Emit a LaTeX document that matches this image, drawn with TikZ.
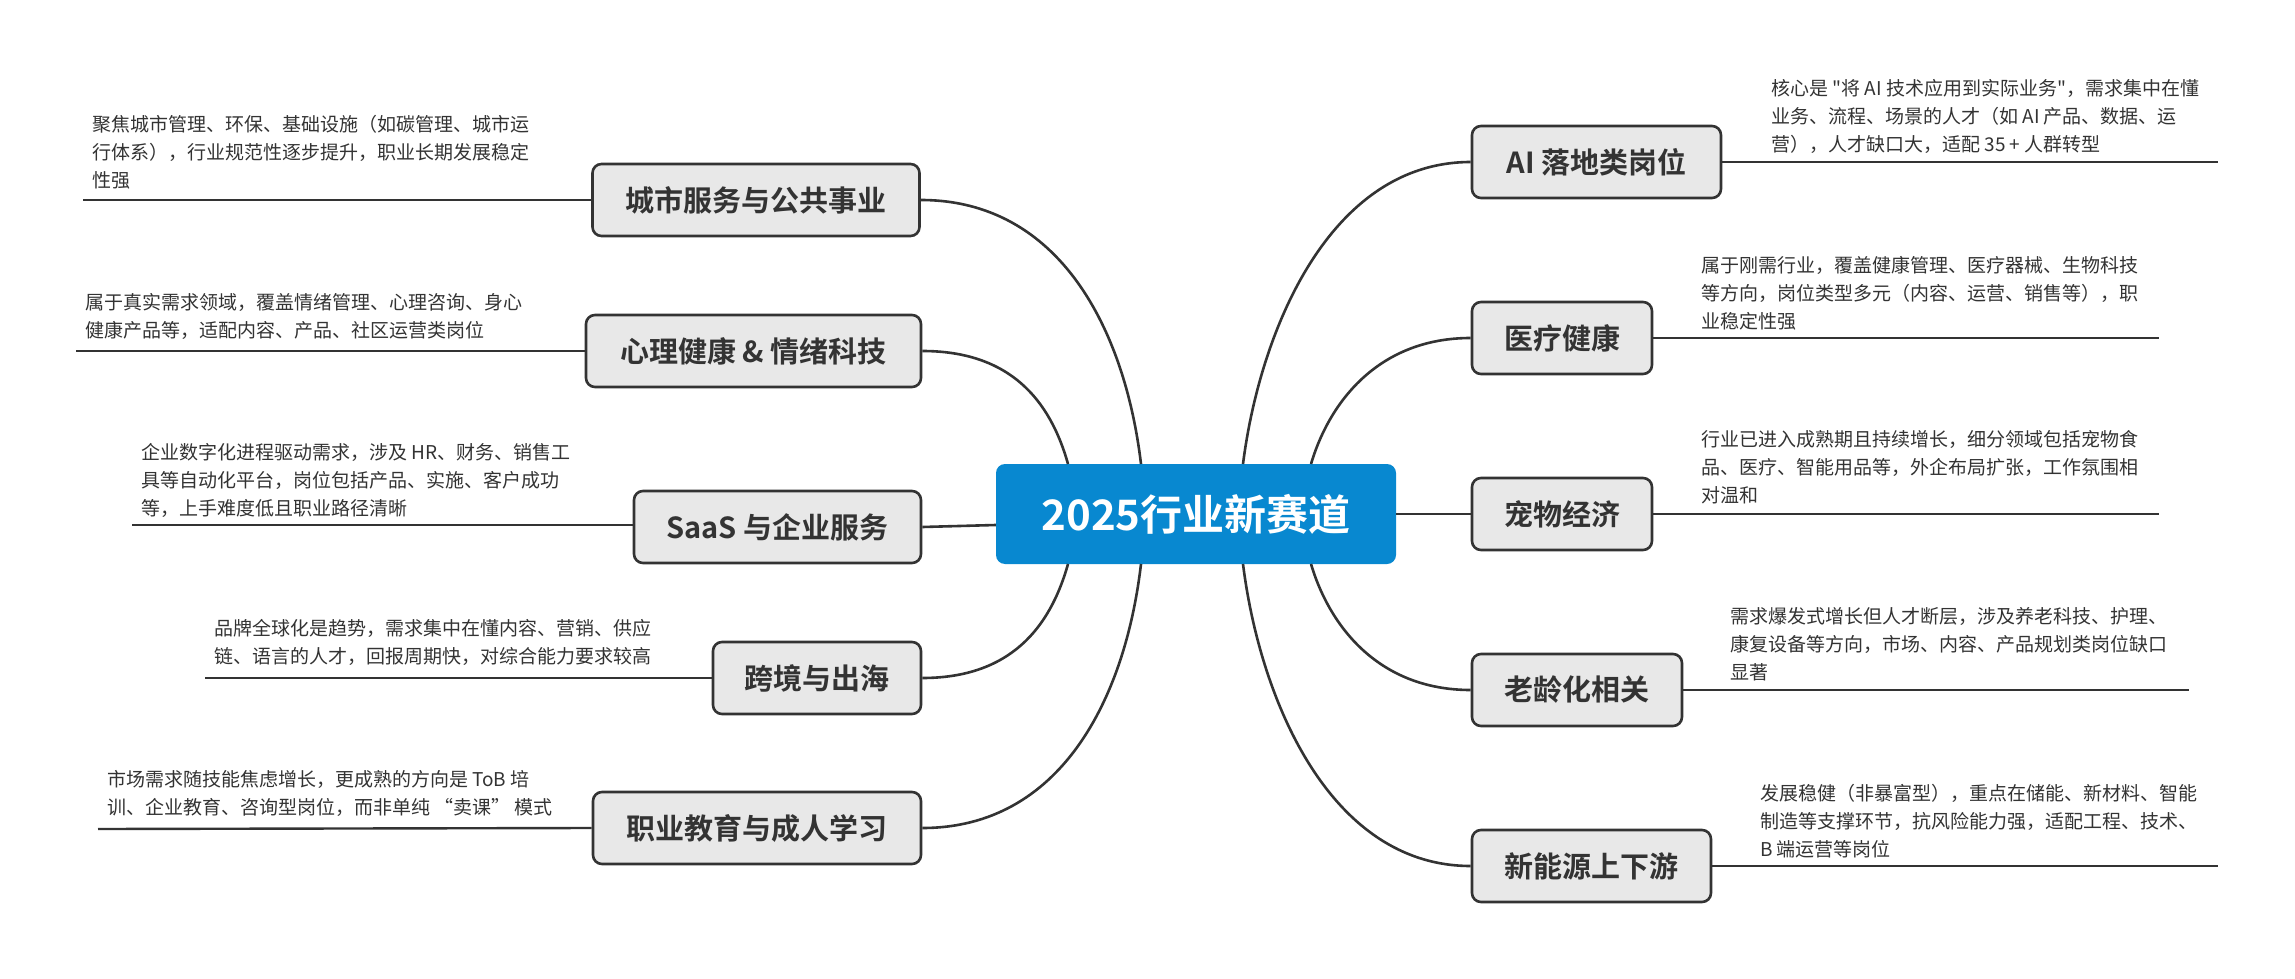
\documentclass[tikz,border=0pt]{standalone}
\usepackage{fontspec}
\setmainfont{Noto Sans CJK SC}
\newfontfamily\cjkb{Noto Sans CJK SC Bold}
\newfontfamily\plainf{Noto Sans CJK SC}
\newcommand{\sq}{{\plainf\symbol{34}}}
\definecolor{ink}{HTML}{333333}
\definecolor{boxfill}{HTML}{E8E8E8}
\definecolor{rootblue}{HTML}{0888D0}
\tikzset{
  branch/.style={draw=ink, line width=2.6pt, fill=boxfill, rounded corners=9pt, inner sep=0pt, text=ink, font=\cjkb\fontsize{29}{34}\selectfont, minimum height=72pt},
  desc/.style={anchor=north west, inner sep=0pt, align=left, text=ink, font=\fontsize{19}{28}\selectfont},
  link/.style={draw=ink, line width=2.6pt},
  uline/.style={draw=ink, line width=2.4pt}
}
\begin{document}
\begin{tikzpicture}[x=1pt,y=-1pt]
\useasboundingbox (0,0) rectangle (2295,979);
\node[fill=rootblue, rounded corners=9pt, minimum width=400pt, minimum height=100pt, inner sep=0pt, text=white, font=\cjkb\fontsize{42}{48}\selectfont] (root) at (1196,514) {2025行业新赛道};
% left branches
\node[branch, minimum width=327pt] (b1) at (756,200) {城市服务与公共事业};
\node[branch, minimum width=335pt] (b2) at (753.5,351) {心理健康 \& 情绪科技};
\node[branch, minimum width=287pt] (b3) at (777.5,527) {SaaS 与企业服务};
\node[branch, minimum width=208pt] (b4) at (817,678) {跨境与出海};
\node[branch, minimum width=328pt] (b5) at (757,828) {职业教育与成人学习};
% right branches
\node[branch, minimum width=249pt] (r1) at (1596.5,162) {AI 落地类岗位};
\node[branch, minimum width=180pt] (r2) at (1562,338) {医疗健康};
\node[branch, minimum width=180pt] (r3) at (1562,514) {宠物经济};
\node[branch, minimum width=210pt] (r4) at (1577,690) {老龄化相关};
\node[branch, minimum width=239pt] (r5) at (1591.5,866) {新能源上下游};
% connectors
\coordinate (t1) at (1141,464); \coordinate (t2) at (1068,464);
\coordinate (t4) at (1068,564); \coordinate (t5) at (1141,564);
\coordinate (u1) at (1243,464); \coordinate (u2) at (1311,464);
\coordinate (u4) at (1311,564); \coordinate (u5) at (1243,564);
\draw[link] (b1.east) .. controls (1060,200) and (1125,330) .. (t1);
\draw[link] (b2.east) .. controls (1010,351) and (1050,400) .. (t2);
\draw[link] (b3.east) -- (root.west |- 0,525);
\draw[link] (b4.east) .. controls (1010,678) and (1050,628) .. (t4);
\draw[link] (b5.east) .. controls (1060,828) and (1125,700) .. (t5);
\draw[link] (r1.west) .. controls (1330,162) and (1260,330) .. (u1);
\draw[link] (r2.west) .. controls (1380,338) and (1330,400) .. (u2);
\draw[link] (root.east |- 0,514) -- (r3.west);
\draw[link] (r4.west) .. controls (1380,690) and (1330,628) .. (u4);
\draw[link] (r5.west) .. controls (1330,866) and (1260,700) .. (u5);
% underlines
\coordinate (e1) at (83,200); \draw[uline] (b1.west) -- (e1);
\coordinate (e2) at (76,351); \draw[uline] (b2.west) -- (e2);
\coordinate (e3) at (132,525); \draw[uline] (b3.west |- 0,525) -- (e3);
\coordinate (e4) at (205,678); \draw[uline] (b4.west) -- (e4);
\coordinate (e5) at (98,829); \draw[uline] (b5.west) -- (e5);
\coordinate (f1) at (2218,162); \draw[uline] (r1.east) -- (f1);
\coordinate (f2) at (2159,338); \draw[uline] (r2.east) -- (f2);
\coordinate (f3) at (2159,514); \draw[uline] (r3.east) -- (f3);
\coordinate (f4) at (2189,690); \draw[uline] (r4.east) -- (f4);
\coordinate (f5) at (2218,866); \draw[uline] (r5.east) -- (f5);
% descriptions
\node[desc] (d1) at (92,115) {聚焦城市管理、环保、基础设施（如碳管理、城市运\\行体系），行业规范性逐步提升，职业长期发展稳定\\性强};
\node[desc] (d2) at (85,293) {属于真实需求领域，覆盖情绪管理、心理咨询、身心\\健康产品等，适配内容、产品、社区运营类岗位};
\node[desc] (d3) at (141,443) {企业数字化进程驱动需求，涉及 HR、财务、销售工\\具等自动化平台，岗位包括产品、实施、客户成功\\等，上手难度低且职业路径清晰};
\node[desc] (d4) at (214,619) {品牌全球化是趋势，需求集中在懂内容、营销、供应\\链、语言的人才，回报周期快，对综合能力要求较高};
\node[desc] (d5) at (107,770) {市场需求随技能焦虑增长，更成熟的方向是 ToB 培\\训、企业教育、咨询型岗位，而非单纯 “卖课” 模式};
\node[desc] (g1) at (1771,79) {核心是 \sq 将 AI 技术应用到实际业务\sq，需求集中在懂\\业务、流程、场景的人才（如 AI 产品、数据、运\\营），人才缺口大，适配 35 + 人群转型};
\node[desc] (g2) at (1701,256) {属于刚需行业，覆盖健康管理、医疗器械、生物科技\\等方向，岗位类型多元（内容、运营、销售等），职\\业稳定性强};
\node[desc] (g3) at (1701,430) {行业已进入成熟期且持续增长，细分领域包括宠物食\\品、医疗、智能用品等，外企布局扩张，工作氛围相\\对温和};
\node[desc] (g4) at (1730,607) {需求爆发式增长但人才断层，涉及养老科技、护理、\\康复设备等方向，市场、内容、产品规划类岗位缺口\\显著};
\node[desc] (g5) at (1760,784) {发展稳健（非暴富型），重点在储能、新材料、智能\\制造等支撑环节，抗风险能力强，适配工程、技术、\\B 端运营等岗位};
\end{tikzpicture}
\end{document}
